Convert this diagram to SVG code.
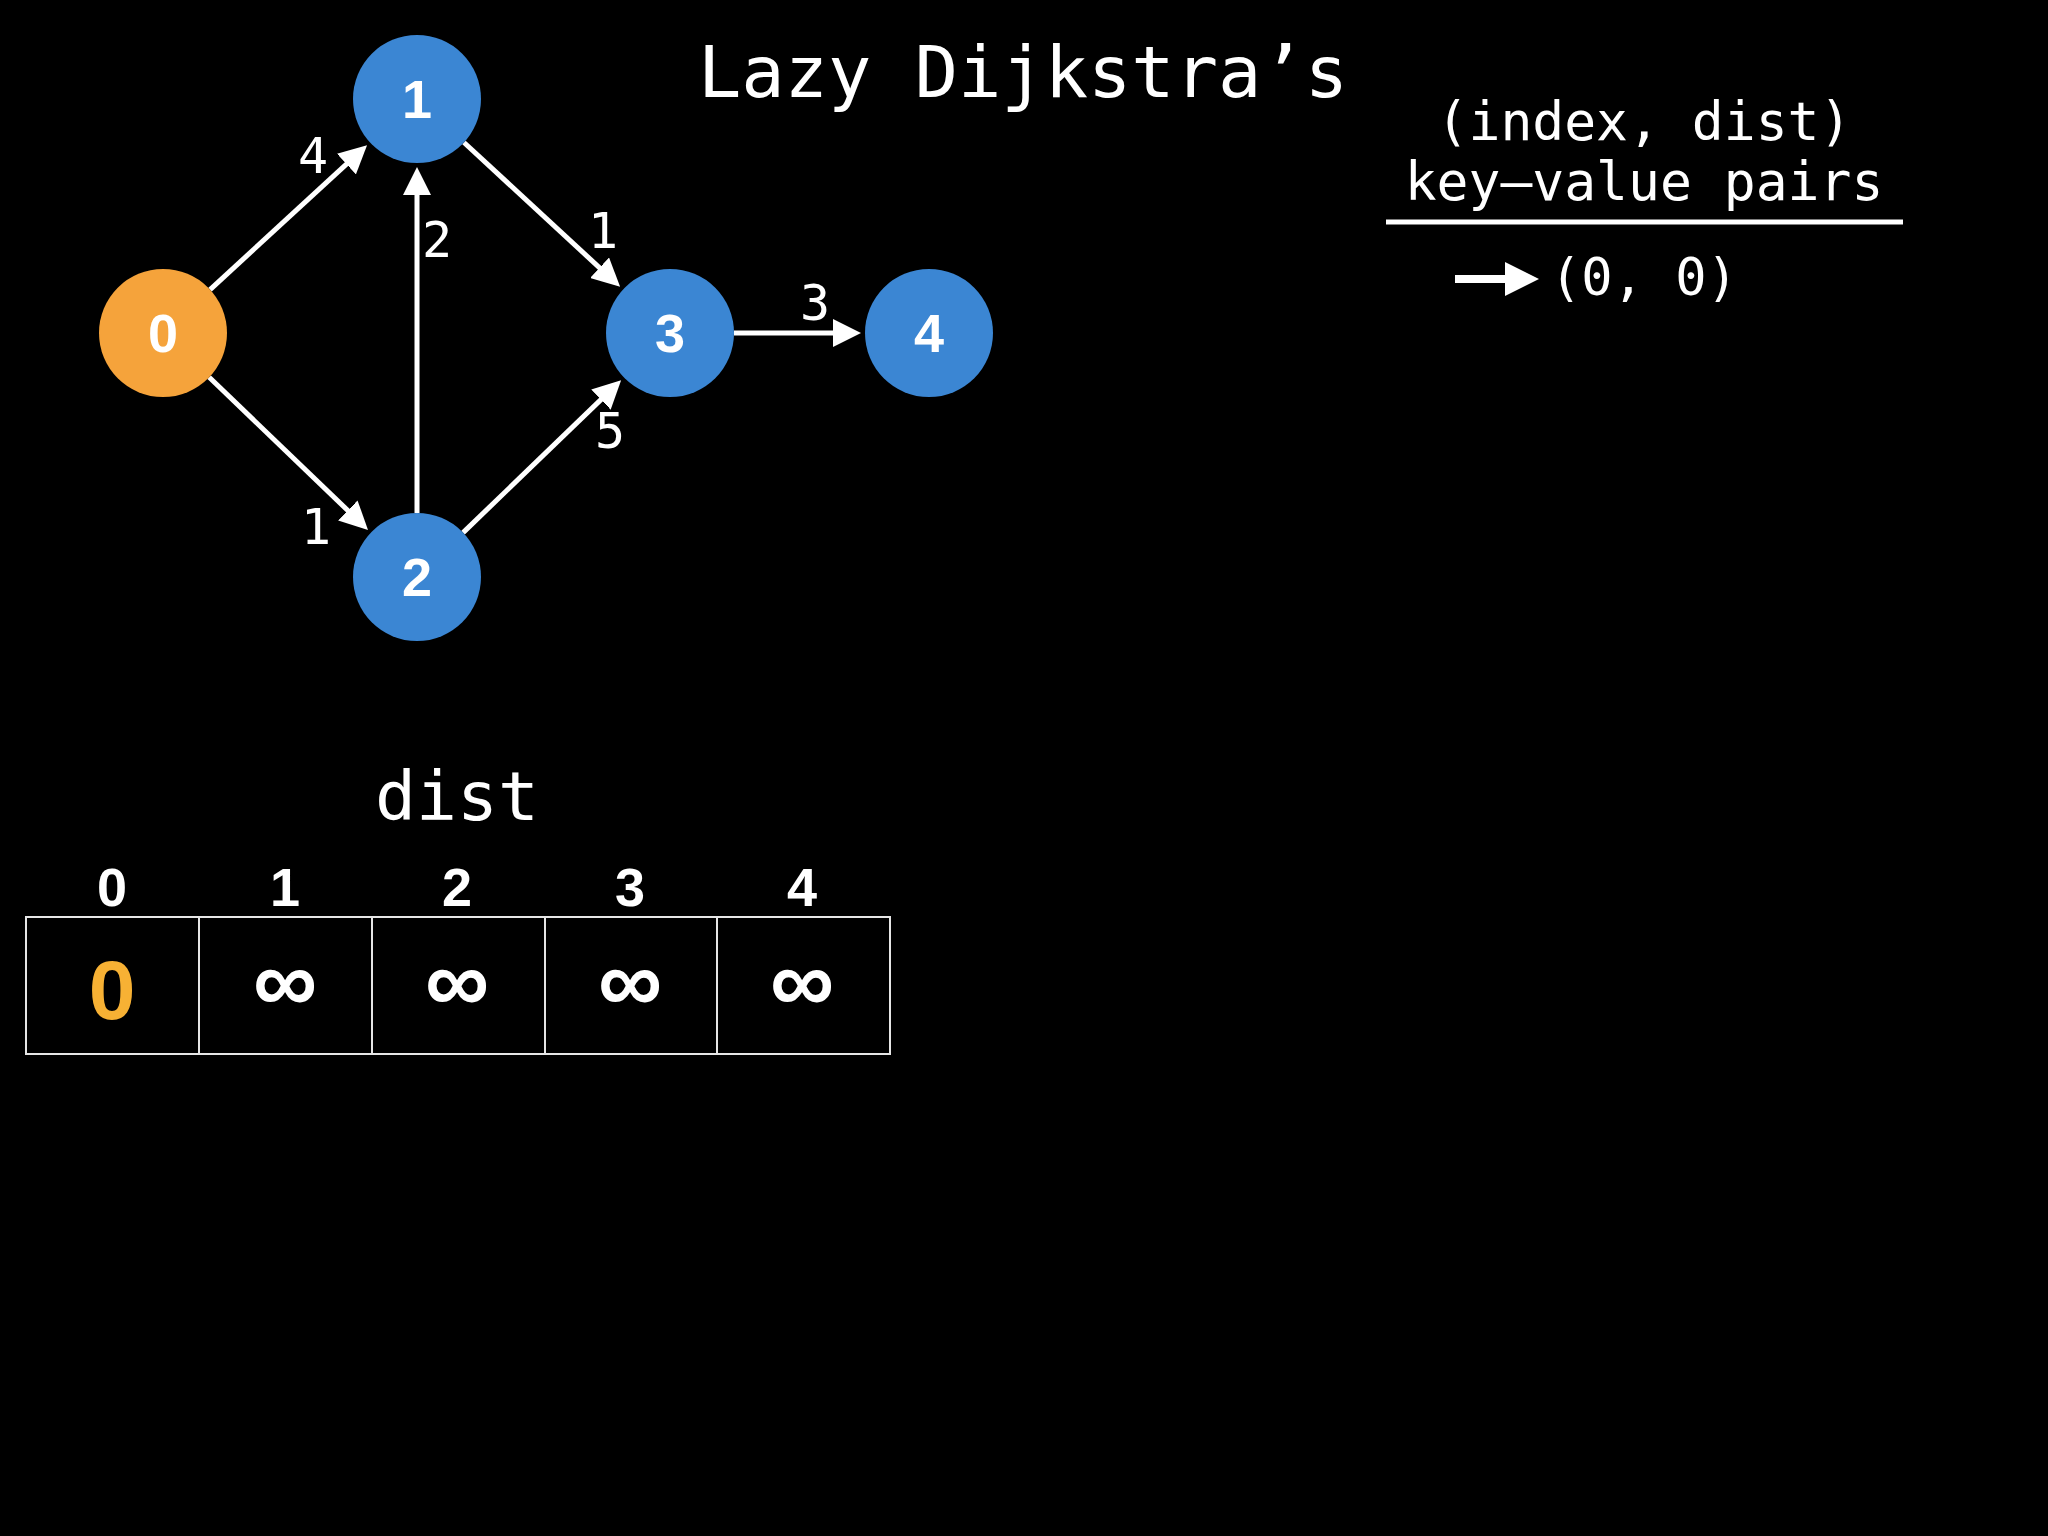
<svg xmlns="http://www.w3.org/2000/svg" width="2048" height="1536" viewBox="0 0 2048 1536">
<style>
.mono{font-family:"DejaVu Sans Mono","Liberation Mono",monospace;fill:#fff}
.nlab{font-family:"Liberation Sans",Arial,sans-serif;font-weight:bold;fill:#fff;font-size:54px;text-anchor:middle}
.edge{stroke:#fff;stroke-width:5;fill:none;marker-end:url(#ah)}
.elab{font-family:"DejaVu Sans Mono",monospace;fill:#fff;font-size:50px;text-anchor:middle}
.blue{fill:#3B86D3}
.orange{fill:#F5A33B}
.cell{fill:none;stroke:#e6e6e6;stroke-width:2}
.idx{font-family:"Liberation Sans",Arial,sans-serif;font-weight:bold;fill:#fff;font-size:54px;text-anchor:middle}
.val{font-family:"Liberation Sans",Arial,sans-serif;font-weight:bold;fill:#fff;font-size:90px;text-anchor:middle}
</style>
<defs>
<marker id="ah" markerUnits="userSpaceOnUse" markerWidth="28" markerHeight="28" refX="13" refY="14" orient="auto" viewBox="0 0 28 28">
<path d="M0,0 L28,14 L0,28 z" fill="#fff"/>
</marker>
</defs>
<rect x="0" y="0" width="2048" height="1536" fill="#000"/>
<text class="mono" x="1023" y="97" font-size="72" text-anchor="middle">Lazy Dijkstra’s</text>
<g id="connectors">
<line class="edge" x1="210.1" y1="289.6" x2="356.0" y2="155.3"/>
<line class="edge" x1="209.2" y1="377.3" x2="357.2" y2="519.5"/>
<line class="edge" x1="417" y1="513" x2="417" y2="182"/>
<line class="edge" x1="464.0" y1="142.5" x2="609.1" y2="276.6"/>
<line class="edge" x1="463.1" y1="532.6" x2="610.3" y2="390.6"/>
<line class="edge" x1="734" y1="333" x2="846" y2="333"/>
<text class="elab" x="313" y="173">4</text>
<text class="elab" x="437" y="257">2</text>
<text class="elab" x="603" y="248">1</text>
<text class="elab" x="815" y="320">3</text>
<text class="elab" x="610" y="448">5</text>
<text class="elab" x="316" y="544">1</text>
</g>
<g id="node0"><circle class="orange" cx="163" cy="333" r="64"/><text class="nlab" x="163" y="352">0</text></g>
<g id="node1"><circle class="blue" cx="417" cy="99" r="64"/><text class="nlab" x="417" y="118">1</text></g>
<g id="node2"><circle class="blue" cx="417" cy="577" r="64"/><text class="nlab" x="417" y="596">2</text></g>
<g id="node3"><circle class="blue" cx="670" cy="333" r="64"/><text class="nlab" x="670" y="352">3</text></g>
<g id="node4"><circle class="blue" cx="929" cy="333" r="64"/><text class="nlab" x="929" y="352">4</text></g>
<g id="pq">
<text class="mono" x="1644" y="140" font-size="53" text-anchor="middle">(index, dist)</text>
<text class="mono" x="1644" y="200" font-size="53" text-anchor="middle">key–value pairs</text>
<line x1="1386" y1="222" x2="1903" y2="222" stroke="#fff" stroke-width="5"/>
<line x1="1455" y1="279" x2="1510" y2="279" stroke="#fff" stroke-width="8"/>
<path d="M1505,262 L1539,279 L1505,296 z" fill="#fff"/>
<text class="mono" x="1550" y="295" font-size="52">(0, 0)</text>
</g>
<g id="dist">
<text class="mono" x="457" y="820" font-size="68" text-anchor="middle">dist</text>
<text class="idx" x="112" y="906">0</text>
<text class="idx" x="285" y="906">1</text>
<text class="idx" x="457" y="906">2</text>
<text class="idx" x="630" y="906">3</text>
<text class="idx" x="802" y="906">4</text>
<rect class="cell" x="26" y="917" width="173" height="137"/>
<rect class="cell" x="199" y="917" width="173" height="137"/>
<rect class="cell" x="372" y="917" width="173" height="137"/>
<rect class="cell" x="545" y="917" width="172" height="137"/>
<rect class="cell" x="717" y="917" width="173" height="137"/>
<text class="val" x="112" y="1019" style="fill:#F7B134;font-size:84px">0</text>
<text class="val" x="285" y="1012">∞</text>
<text class="val" x="457" y="1012">∞</text>
<text class="val" x="630" y="1012">∞</text>
<text class="val" x="802" y="1012">∞</text>
</g>
</svg>
